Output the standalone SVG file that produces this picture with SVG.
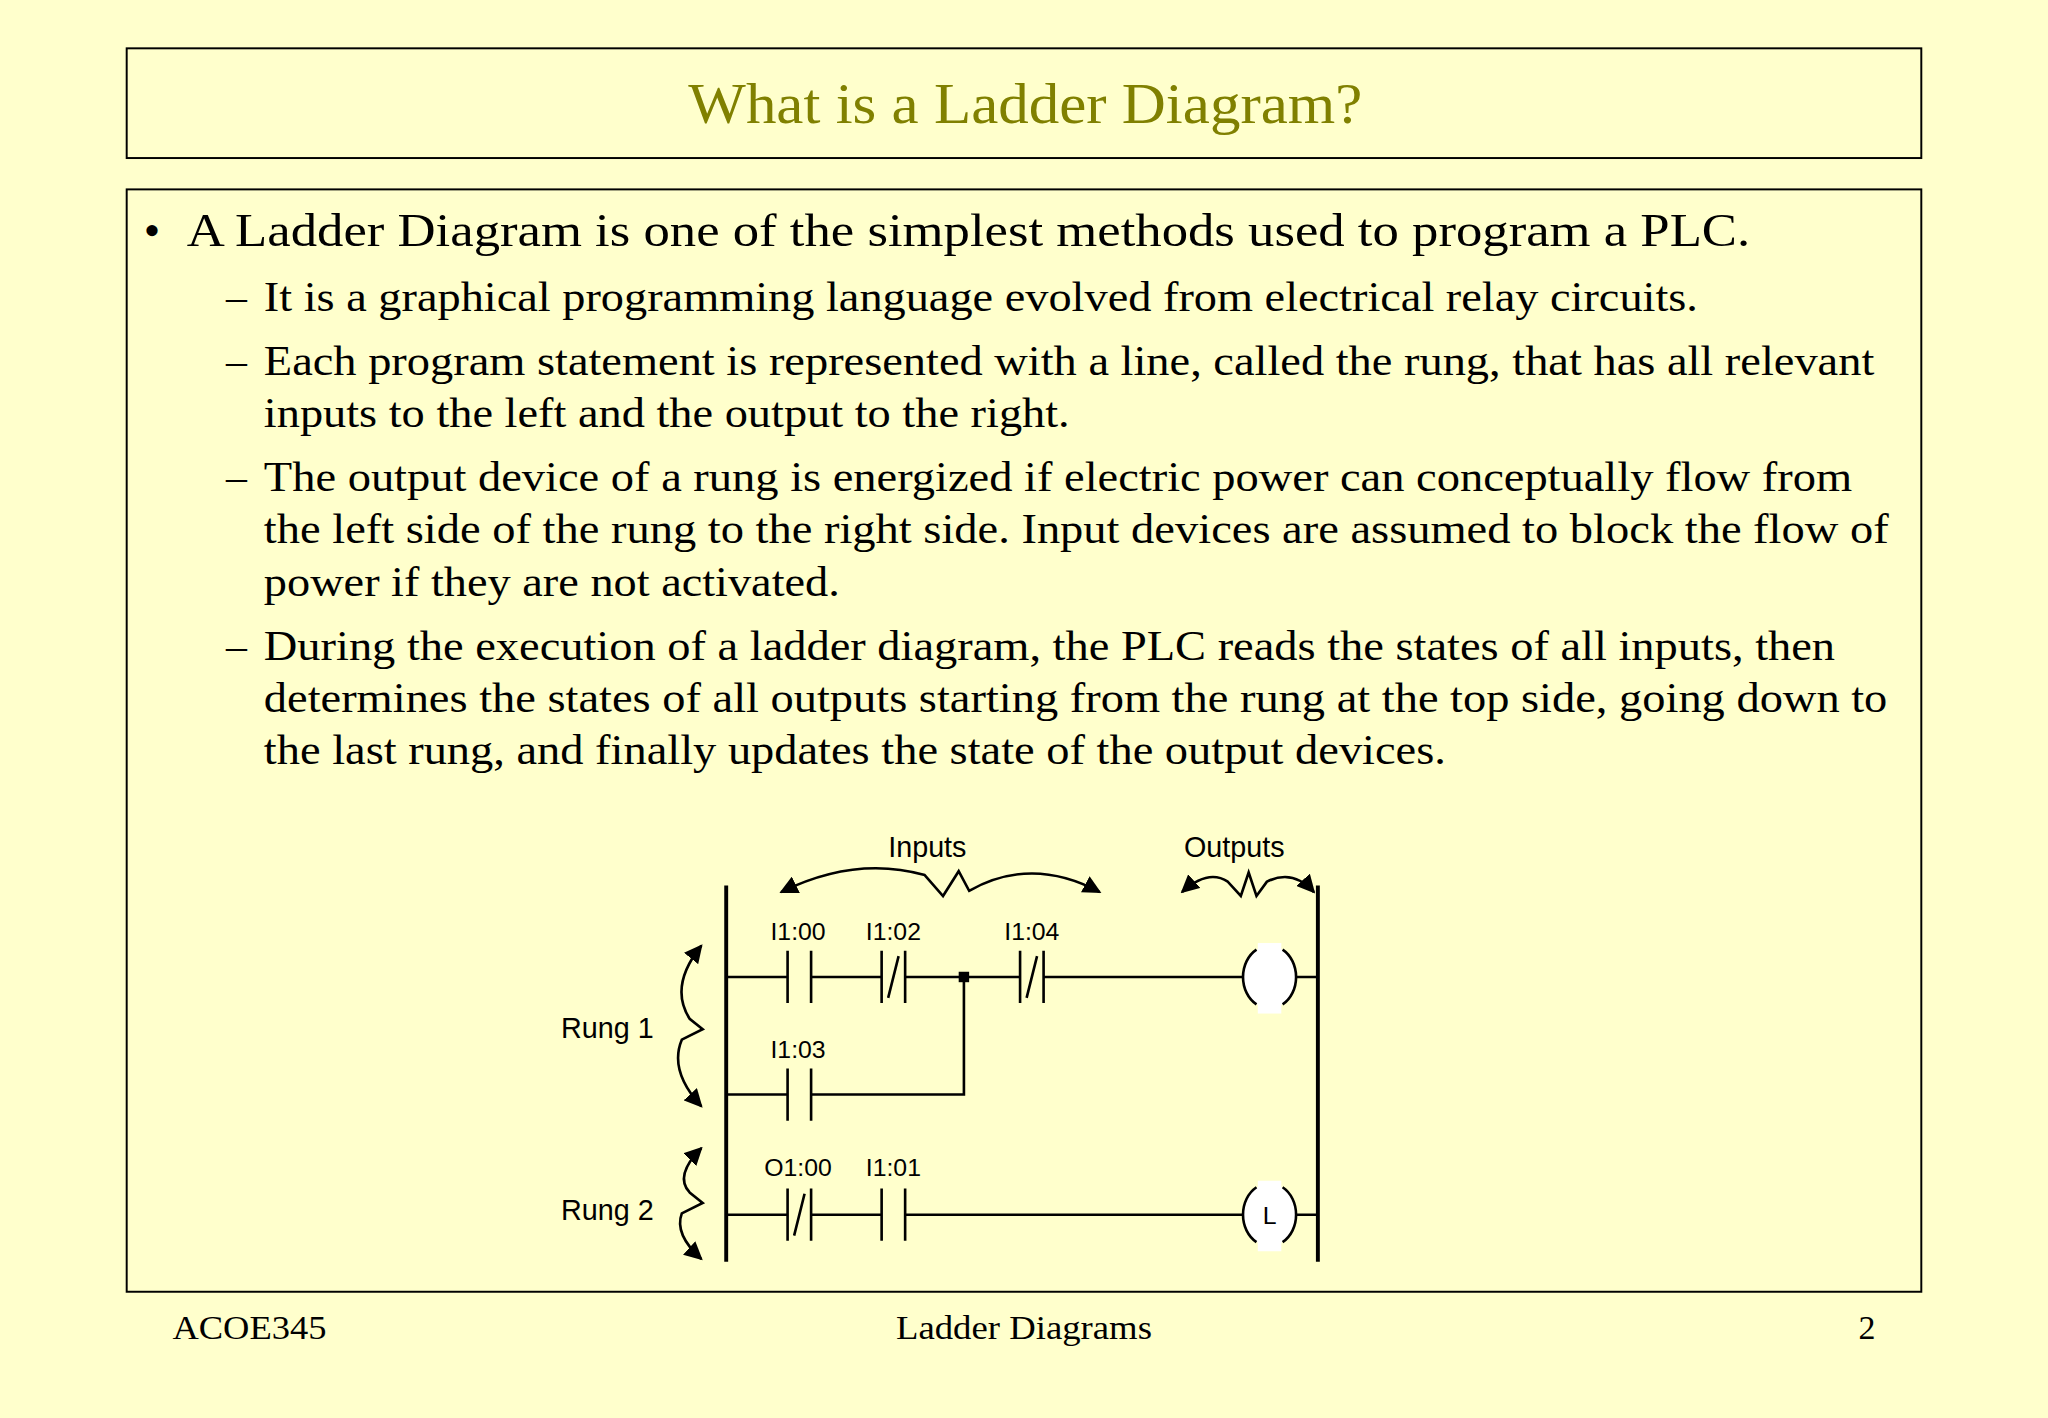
<svg xmlns="http://www.w3.org/2000/svg" width="2048" height="1418" viewBox="0 0 2048 1418">
<defs>
<style>
.t{font-family:"Liberation Serif",serif;fill:#000}
.s{font-family:"Liberation Sans",Arial,sans-serif;fill:#000}
.w{stroke:#000;stroke-width:2;fill:none}
.r{stroke:#000;stroke-width:3;fill:none}
</style>
<marker id="ah" viewBox="0 0 10 10" refX="9" refY="5" markerWidth="7" markerHeight="7" orient="auto-start-reverse"><path d="M0,0L10,5L0,10z" fill="#000"/></marker>
</defs>
<rect width="2048" height="1418" fill="#FFFFCC"/>
<g transform="scale(1.30612)">
<rect x="97" y="37" width="1374" height="84" fill="none" stroke="#000" stroke-width="1.5"/>
<text x="527" y="94" textLength="516" lengthAdjust="spacingAndGlyphs" font-family="Liberation Serif,serif" font-size="44" fill="#808000">What is a Ladder Diagram?</text>
<rect x="97" y="145" width="1374" height="844" fill="none" stroke="#000" stroke-width="1.5"/>
<g class="t" lengthAdjust="spacingAndGlyphs">
<text x="110" y="188" font-size="36">•</text>
<text x="143" y="188" font-size="36" textLength="1197" lengthAdjust="spacingAndGlyphs">A Ladder Diagram is one of the simplest methods used to program a PLC.</text>
<g font-size="32">
<text x="173" y="238">–</text><text x="173" y="287">–</text><text x="173" y="376">–</text><text x="173" y="505">–</text>
<text x="202" y="238" textLength="1098" lengthAdjust="spacingAndGlyphs">It is a graphical programming language evolved from electrical relay circuits.</text>
<text x="202" y="287" textLength="1233" lengthAdjust="spacingAndGlyphs">Each program statement is represented with a line, called the rung, that has all relevant</text>
<text x="202" y="327" textLength="617" lengthAdjust="spacingAndGlyphs">inputs to the left and the output to the right.</text>
<text x="202" y="376" textLength="1216" lengthAdjust="spacingAndGlyphs">The output device of a rung is energized if electric power can conceptually flow from</text>
<text x="202" y="416" textLength="1244" lengthAdjust="spacingAndGlyphs">the left side of the rung to the right side. Input devices are assumed to block the flow of</text>
<text x="202" y="456" textLength="441" lengthAdjust="spacingAndGlyphs">power if they are not activated.</text>
<text x="202" y="505" textLength="1203" lengthAdjust="spacingAndGlyphs">During the execution of a ladder diagram, the PLC reads the states of all inputs, then</text>
<text x="202" y="545" textLength="1243" lengthAdjust="spacingAndGlyphs">determines the states of all outputs starting from the rung at the top side, going down to</text>
<text x="202" y="585" textLength="905" lengthAdjust="spacingAndGlyphs">the last rung, and finally updates the state of the output devices.</text>
</g>
<g font-size="26">
<text x="132" y="1025" textLength="118" lengthAdjust="spacingAndGlyphs">ACOE345</text>
<text x="686" y="1025" textLength="196" lengthAdjust="spacingAndGlyphs">Ladder Diagrams</text>
<text x="1436" y="1025" text-anchor="end">2</text>
</g>
</g>
<g id="rails">
<line class="r" x1="556" y1="678" x2="556" y2="966"/>
<line class="r" x1="1009" y1="678" x2="1009" y2="966"/>
</g>
<g id="connectors" class="w">
<path d="M556,748H603M621,748H675M693,748H781M799,748H952M992,748H1009"/>
<path d="M556,838H603M621,838H738V748"/>
<path d="M556,930H603M621,930H675M693,930H952M992,930H1009"/>
<path d="M598,683Q655,655 708,670L722,686L734,667L742,682Q790,655 842,683" marker-start="url(#ah)" marker-end="url(#ah)"/>
<path d="M905,683Q925,665 940,675L950,686L956,668L962,686L970,675Q990,665 1006,683" marker-start="url(#ah)" marker-end="url(#ah)"/>
<path d="M537,724Q512,755 528,780L538,788L522,796Q512,820 537,847" marker-start="url(#ah)" marker-end="url(#ah)"/>
<path d="M537,879Q516,900 528,913L538,921L522,929Q516,945 537,964" marker-start="url(#ah)" marker-end="url(#ah)"/>
</g>
<rect x="734" y="744" width="8" height="8" fill="#000"/>
<g id="I1_00"><path class="w" d="M603,728V768M621,728V768"/><text class="s" x="611" y="720" font-size="19" text-anchor="middle">I1:00</text></g>
<g id="I1_02"><path class="w" d="M675,728V768M693,728V768M680,764L688,732"/><text class="s" x="684" y="720" font-size="19" text-anchor="middle">I1:02</text></g>
<g id="I1_04"><path class="w" d="M781,728V768M799,728V768M786,764L794,732"/><text class="s" x="790" y="720" font-size="19" text-anchor="middle">I1:04</text></g>
<g id="I1_03"><path class="w" d="M603,818V858M621,818V858"/><text class="s" x="611" y="810" font-size="19" text-anchor="middle">I1:03</text></g>
<g id="O1_00"><path class="w" d="M603,910V950M621,910V950M608,946L616,914"/><text class="s" x="611" y="900" font-size="19" text-anchor="middle">O1:00</text></g>
<g id="I1_01"><path class="w" d="M675,910V950M693,910V950"/><text class="s" x="684" y="900" font-size="19" text-anchor="middle">I1:01</text></g>
<g id="coil1"><ellipse cx="972" cy="748" rx="20" ry="24" fill="#fff" stroke="none"/><rect x="963" y="722" width="18" height="54" fill="#fff"/><path class="w" d="M962,727A20,24 0 0 0 962,769M982,727A20,24 0 0 1 982,769"/></g>
<g id="coil2"><ellipse cx="972" cy="930" rx="20" ry="24" fill="#fff" stroke="none"/><rect x="963" y="904" width="18" height="54" fill="#fff"/><path class="w" d="M962,909A20,24 0 0 0 962,951M982,909A20,24 0 0 1 982,951"/><text class="s" x="972" y="937" font-size="19" text-anchor="middle">L</text></g>
<g class="s" font-size="22">
<text x="710" y="656" text-anchor="middle">Inputs</text>
<text x="945" y="656" text-anchor="middle">Outputs</text>
<text x="465" y="795" text-anchor="middle">Rung 1</text>
<text x="465" y="934" text-anchor="middle">Rung 2</text>
</g>
</g>
</svg>
